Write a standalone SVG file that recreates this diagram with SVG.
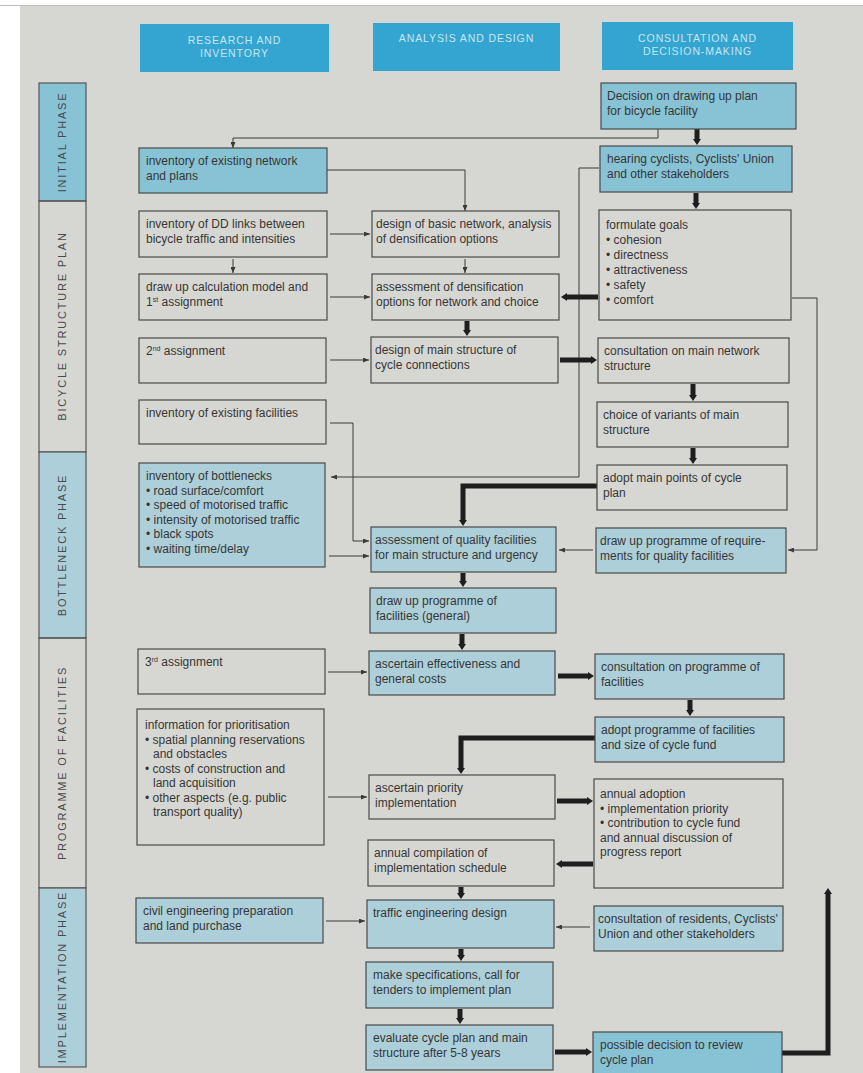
<svg xmlns="http://www.w3.org/2000/svg" width="863" height="1073" viewBox="0 0 863 1073">
<style>
.page{fill:#d6d6d3}
.b{stroke:#4a4a4a;stroke-width:1.2}
.w{fill:none}
.cs{fill:#88c3d5}
.cl{fill:#adcfd9}
.t{font-family:"Liberation Sans",Arial,sans-serif;font-size:12px;fill:#363636}
.hd{fill:#34a4d0}
.ht{font-family:"Liberation Sans",Arial,sans-serif;font-size:10.5px;fill:#c6e6f2;letter-spacing:0.9px;text-anchor:middle}
.sb{stroke:#555;stroke-width:1.2}
.st{font-family:"Liberation Sans",Arial,sans-serif;font-size:11px;fill:#4a4a4a;letter-spacing:1.8px;text-anchor:middle}
.thin{fill:none;stroke:#3a3a3a;stroke-width:1;marker-end:url(#ah)}
.thick{fill:none;stroke:#1e1e1e;stroke-width:5;marker-end:url(#ahk)}
</style>
<defs>
<marker id="ah" viewBox="0 0 6 5" refX="6" refY="2.5" markerWidth="6" markerHeight="5" markerUnits="userSpaceOnUse" orient="auto"><path d="M0,0 L6,2.5 L0,5 z" fill="#3a3a3a"/></marker>
<marker id="ahk" viewBox="0 0 6 8" refX="0" refY="4" markerWidth="6" markerHeight="8" markerUnits="userSpaceOnUse" orient="auto"><path d="M0,0 L6,4 L0,8 z" fill="#1e1e1e"/></marker>
</defs>
<rect width="863" height="1073" fill="#ffffff"/>
<rect class="page" x="20" y="6" width="843" height="1067"/>
<line x1="0" y1="5.5" x2="863" y2="5.5" stroke="#bdbdbd" stroke-width="1"/>

<g id="headers">
<rect class="hd" x="140" y="24" width="189" height="48"/>
<text class="ht" x="234.5" y="44">RESEARCH AND</text>
<text class="ht" x="234.5" y="57">INVENTORY</text>
<rect class="hd" x="373" y="23" width="187" height="48"/>
<text class="ht" x="466.5" y="42">ANALYSIS AND DESIGN</text>
<rect class="hd" x="602" y="22" width="191" height="48"/>
<text class="ht" x="697.5" y="42">CONSULTATION AND</text>
<text class="ht" x="697.5" y="55">DECISION-MAKING</text>
</g>

<g id="phases">
<rect class="sb cs" x="39" y="83" width="47" height="118"/>
<rect class="sb w" x="39" y="201" width="47" height="251"/>
<rect class="sb cl" x="39" y="452" width="47" height="186"/>
<rect class="sb w" x="39" y="638" width="47" height="250"/>
<rect class="sb cl" x="39" y="888" width="47" height="179"/>
<text class="st" transform="translate(66,142) rotate(-90)">INITIAL PHASE</text>
<text class="st" transform="translate(66,326) rotate(-90)">BICYCLE STRUCTURE PLAN</text>
<text class="st" transform="translate(66,545) rotate(-90)">BOTTLENECK PHASE</text>
<text class="st" transform="translate(66,763) rotate(-90)">PROGRAMME OF FACILITIES</text>
<text class="st" transform="translate(66,977) rotate(-90)">IMPLEMENTATION PHASE</text>
</g>

<g id="connectors">
<path class="thin" d="M658,129 V138 H233 V148"/>
<path class="thin" d="M327,170 H465 V211"/>
<path class="thin" d="M330,234 H370"/>
<path class="thin" d="M233,259 V273"/>
<path class="thin" d="M330,297 H370"/>
<path class="thin" d="M465,259 V273"/>
<path class="thin" d="M330,360 H369"/>
<path class="thin" d="M330,423 H353 V541 H369"/>
<path class="thin" d="M329,556 H369"/>
<path class="thin" d="M599,168 H579 V477 H331"/>
<path class="thin" d="M792,298 H817 V550 H788"/>
<path class="thin" d="M593,550 H559"/>
<path class="thin" d="M328,672 H367"/>
<path class="thin" d="M328,797 H367"/>
<path class="thin" d="M326,921 H365"/>
<path class="thin" d="M590,927 H556"/>
<path class="thick" d="M697,129 V139"/>
<path class="thick" d="M696,193 V203"/>
<path class="thick" d="M598,297 H567"/>
<path class="thick" d="M467,321 V330"/>
<path class="thick" d="M560,360 H591"/>
<path class="thick" d="M693,384 V395"/>
<path class="thick" d="M693,448 V458"/>
<path class="thick" d="M597,486 H463 V520"/>
<path class="thick" d="M463,573 V581"/>
<path class="thick" d="M462,634 V644"/>
<path class="thick" d="M558,676 H588"/>
<path class="thick" d="M690,700 V710"/>
<path class="thick" d="M595,738 H461 V768"/>
<path class="thick" d="M557,801 H587"/>
<path class="thick" d="M593,864 H562"/>
<path class="thick" d="M461,887 V893"/>
<path class="thick" d="M461,949 V955"/>
<path class="thick" d="M460,1009 V1018"/>
<path class="thick" d="M555,1052 H586"/>
<path class="thick" d="M782,1053 H828 V894"/>
</g>

<g id="n_inv_net"><rect class="b cs" x="139" y="148" width="188" height="45"/>
<text class="t" x="146" y="165">inventory of existing network</text><text class="t" x="146" y="180">and plans</text></g>
<g id="n_dd"><rect class="b w" x="139" y="211" width="188" height="46"/>
<text class="t" x="146" y="228">inventory of DD links between</text><text class="t" x="146" y="243">bicycle traffic and intensities</text></g>
<g id="n_calc"><rect class="b w" x="139" y="274" width="188" height="46"/>
<text class="t" x="146" y="291">draw up calculation model and</text><text class="t" x="146" y="306">1<tspan font-size="7" dy="-4">st</tspan><tspan dy="4"> assignment</tspan></text></g>
<g id="n_2nd"><rect class="b w" x="139" y="338" width="187" height="45"/>
<text class="t" x="146" y="355">2<tspan font-size="7" dy="-4">nd</tspan><tspan dy="4"> assignment</tspan></text></g>
<g id="n_fac"><rect class="b w" x="139" y="400" width="187" height="44"/>
<text class="t" x="146" y="417">inventory of existing facilities</text></g>
<g id="n_bott"><rect class="b cl" x="139" y="463" width="186" height="104"/>
<text class="t" x="146" y="480">inventory of bottlenecks</text>
<text class="t" x="146" y="494.5">• road surface/comfort</text>
<text class="t" x="146" y="509">• speed of motorised traffic</text>
<text class="t" x="146" y="523.5">• intensity of motorised traffic</text>
<text class="t" x="146" y="538">• black spots</text>
<text class="t" x="146" y="552.5">• waiting time/delay</text></g>
<g id="n_3rd"><rect class="b w" x="138" y="649" width="187" height="45"/>
<text class="t" x="145" y="666">3<tspan font-size="7" dy="-4">rd</tspan><tspan dy="4"> assignment</tspan></text></g>
<g id="n_info"><rect class="b w" x="137" y="709" width="187" height="136"/>
<text class="t" x="145" y="729">information for prioritisation</text>
<text class="t" x="145" y="743.5">• spatial planning reservations</text>
<text class="t" x="153" y="758">and obstacles</text>
<text class="t" x="145" y="772.5">• costs of construction and</text>
<text class="t" x="153" y="787">land acquisition</text>
<text class="t" x="145" y="801.5">• other aspects (e.g. public</text>
<text class="t" x="153" y="816">transport quality)</text></g>
<g id="n_civil"><rect class="b cl" x="136" y="898" width="187" height="45"/>
<text class="t" x="143" y="915">civil engineering preparation</text><text class="t" x="143" y="930">and land purchase</text></g>

<g id="n_basic"><rect class="b w" x="372" y="211" width="187" height="46"/>
<text class="t" x="376" y="228">design of basic network, analysis</text><text class="t" x="376" y="243">of densification options</text></g>
<g id="n_dens"><rect class="b w" x="372" y="274" width="187" height="46"/>
<text class="t" x="376" y="291">assessment of densification</text><text class="t" x="376" y="306">options for network and choice</text></g>
<g id="n_main"><rect class="b w" x="371" y="337" width="187" height="46"/>
<text class="t" x="375" y="354">design of main structure of</text><text class="t" x="375" y="369">cycle connections</text></g>
<g id="n_qual"><rect class="b cl" x="371" y="527" width="185" height="45"/>
<text class="t" x="375" y="544">assessment of quality facilities</text><text class="t" x="375" y="559">for main structure and urgency</text></g>
<g id="n_progfac"><rect class="b cl" x="370" y="588" width="186" height="45"/>
<text class="t" x="376" y="605">draw up programme of</text><text class="t" x="376" y="620">facilities (general)</text></g>
<g id="n_eff"><rect class="b cl" x="369" y="651" width="186" height="44"/>
<text class="t" x="375" y="668">ascertain effectiveness and</text><text class="t" x="375" y="683">general costs</text></g>
<g id="n_prio"><rect class="b w" x="369" y="775" width="186" height="44"/>
<text class="t" x="375" y="792">ascertain priority</text><text class="t" x="375" y="807">implementation</text></g>
<g id="n_comp"><rect class="b w" x="368" y="840" width="186" height="46"/>
<text class="t" x="374" y="857">annual compilation of</text><text class="t" x="374" y="872">implementation schedule</text></g>
<g id="n_traffic"><rect class="b cl" x="367" y="900" width="187" height="48"/>
<text class="t" x="373" y="917">traffic engineering design</text></g>
<g id="n_spec"><rect class="b cl" x="366" y="962" width="187" height="46"/>
<text class="t" x="373" y="979">make specifications, call for</text><text class="t" x="373" y="994">tenders to implement plan</text></g>
<g id="n_eval"><rect class="b cl" x="366" y="1025" width="187" height="45"/>
<text class="t" x="373" y="1042">evaluate cycle plan and main</text><text class="t" x="373" y="1057">structure after 5-8 years</text></g>

<g id="n_decision"><rect class="b cs" x="601" y="83" width="195" height="46"/>
<text class="t" x="607" y="100">Decision on drawing up plan</text><text class="t" x="607" y="115">for bicycle facility</text></g>
<g id="n_hearing"><rect class="b cs" x="600" y="146" width="192" height="46"/>
<text class="t" x="607" y="163">hearing cyclists, Cyclists' Union</text><text class="t" x="607" y="178">and other stakeholders</text></g>
<g id="n_goals"><rect class="b w" x="599" y="210" width="192" height="110"/>
<text class="t" x="606" y="229">formulate goals</text>
<text class="t" x="606" y="244">• cohesion</text>
<text class="t" x="606" y="259">• directness</text>
<text class="t" x="606" y="274">• attractiveness</text>
<text class="t" x="606" y="289">• safety</text>
<text class="t" x="606" y="304">• comfort</text></g>
<g id="n_consmain"><rect class="b w" x="598" y="338" width="191" height="45"/>
<text class="t" x="604" y="355">consultation on main network</text><text class="t" x="604" y="370">structure</text></g>
<g id="n_variants"><rect class="b w" x="597" y="402" width="191" height="45"/>
<text class="t" x="603" y="419">choice of variants of main</text><text class="t" x="603" y="434">structure</text></g>
<g id="n_adopt"><rect class="b w" x="597" y="465" width="190" height="45"/>
<text class="t" x="603" y="482">adopt main points of cycle</text><text class="t" x="603" y="497">plan</text></g>
<g id="n_req"><rect class="b cl" x="596" y="528" width="190" height="45"/>
<text class="t" x="600" y="545">draw up programme of require-</text><text class="t" x="600" y="560">ments for quality facilities</text></g>
<g id="n_consprog"><rect class="b cl" x="595" y="654" width="189" height="45"/>
<text class="t" x="601" y="671">consultation on programme of</text><text class="t" x="601" y="686">facilities</text></g>
<g id="n_adoptprog"><rect class="b cl" x="595" y="717" width="189" height="45"/>
<text class="t" x="601" y="734">adopt programme of facilities</text><text class="t" x="601" y="749">and size of cycle fund</text></g>
<g id="n_annual"><rect class="b w" x="594" y="779" width="189" height="109"/>
<text class="t" x="600" y="798">annual adoption</text>
<text class="t" x="600" y="812.5">• implementation priority</text>
<text class="t" x="600" y="827">• contribution to cycle fund</text>
<text class="t" x="600" y="841.5">and annual discussion of</text>
<text class="t" x="600" y="856">progress report</text></g>
<g id="n_resid"><rect class="b cl" x="594" y="906" width="189" height="45"/>
<text class="t" x="598" y="923">consultation of residents, Cyclists'</text><text class="t" x="598" y="938">Union and other stakeholders</text></g>
<g id="n_possible"><rect class="b cs" x="593" y="1032" width="189" height="46"/>
<text class="t" x="600" y="1049">possible decision to review</text><text class="t" x="600" y="1064">cycle plan</text></g>
</svg>
